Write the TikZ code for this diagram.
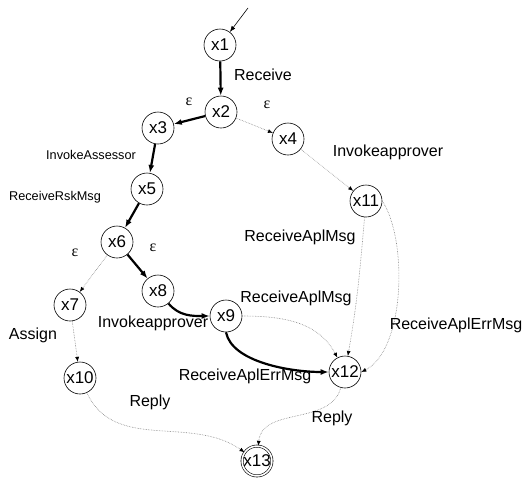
\documentclass[tikz,border=0pt]{standalone}
\usepackage{fontspec}
\setmainfont{Liberation Sans}
\newfontfamily\serifeps{Liberation Serif}
\usetikzlibrary{arrows.meta}
\begin{document}
\begin{tikzpicture}[x=1pt,y=-1pt,
  st/.style={circle,draw,line width=0.6pt,minimum size=32pt,inner sep=0pt,font=\fontsize{17}{18}\selectfont},
  fin/.style={st,double,double distance=1.6pt,minimum size=29pt},
  strong/.style={line width=2.2pt,-{Latex[length=8pt,width=6pt]}},
  weak/.style={densely dotted,gray,line width=0.6pt,-{Latex[length=5pt,width=4pt,fill=black,color=black]}},
  lbl/.style={font=\fontsize{16}{18}\selectfont,inner sep=0pt},
  slbl/.style={font=\fontsize{12.7}{14}\selectfont,inner sep=0pt},
  eps/.style={font=\serifeps\fontsize{16}{18}\selectfont,inner sep=0pt}]
\useasboundingbox (0,0) rectangle (526,477);
\node[st] (x1) at (220,45) {x1};
\node[st] (x2) at (221,112) {x2};
\node[st] (x3) at (158,128) {x3};
\node[st] (x4) at (288,139) {x4};
\node[st] (x5) at (147,189) {x5};
\node[st] (x6) at (117,242) {x6};
\node[st] (x7) at (70,305) {x7};
\node[st] (x8) at (158,291) {x8};
\node[st] (x9) at (226,316) {x9};
\node[st] (x10) at (80,378) {x10};
\node[st] (x11) at (366,201) {x11};
\node[st] (x12) at (345,372) {x12};
\node[fin] (x13) at (257,461) {x13};
\coordinate (start) at (248,8);
% edges
\draw[line width=0.6pt,-{Latex[length=6pt,width=4.5pt]}] (start) -- (x1);
\draw[strong] (x1) -- (x2);
\draw[strong] (x2) -- (x3);
\draw[strong] (x3) -- (x5);
\draw[strong] (x5) -- (x6);
\draw[strong] (x6) -- (x8);
\draw[strong] (x8) to[out=-50,in=180] (x9);
\draw[strong] (x9.south) .. controls (232,362) and (290,372) .. (x12.west);
\draw[weak] (x9) to[out=0,in=118] (x12);
\draw[weak] (x2) -- (x4);
\draw[weak] (x4) -- (x11);
\draw[weak] (x11) to[out=-95,in=80] (x12);
\draw[weak] (x11.east) .. controls (408,240) and (405,350) .. (x12.east);
\draw[weak] (x6) -- (x7);
\draw[weak] (x7) -- (x10);
\draw[weak] (x10) to[out=-65,in=145] (x13);
\draw[weak] (x12) to[out=-105,in=85] (x13);
% labels
\node[lbl] (lRec) at (263,75) {Receive};
\node[eps] (e1) at (189,102) {ε};
\node[eps] (e2) at (267,105) {ε};
\node[slbl] (lIA) at (91,155) {InvokeAssessor};
\node[slbl] (lRR) at (55,197) {ReceiveRskMsg};
\node[lbl] (lIap1) at (388,152) {Invokeapprover};
\node[eps] (e3) at (75,253) {ε};
\node[eps] (e4) at (153,248) {ε};
\node[lbl] (lRA1) at (300,237) {ReceiveAplMsg};
\node[lbl] (lRA2) at (296,298) {ReceiveAplMsg};
\node[lbl] (lRE1) at (456,325) {ReceiveAplErrMsg};
\node[lbl] (lIap2) at (153,323) {Invokeapprover};
\node[lbl] (lAs) at (33,335) {Assign};
\node[lbl] (lRE2) at (245,376) {ReceiveAplErrMsg};
\node[lbl] (lRp1) at (150,402) {Reply};
\node[lbl] (lRp2) at (332,418) {Reply};
\end{tikzpicture}
\end{document}
